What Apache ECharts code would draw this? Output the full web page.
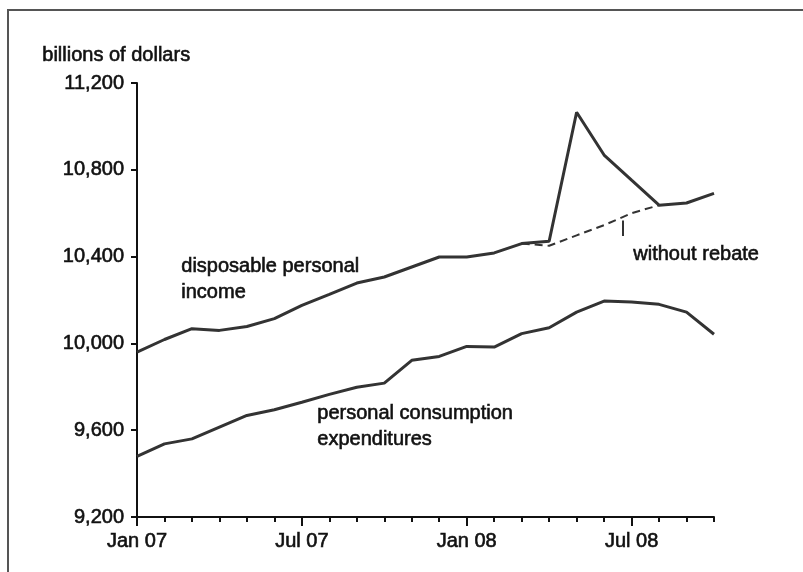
<!DOCTYPE html>
<html>
<head>
<meta charset="utf-8">
<script src="https://cdn.jsdelivr.net/npm/echarts@6/dist/echarts.min.js"></script>
<style>
  html, body { margin: 0; padding: 0; background: #fff; }
  #chart { width: 803px; height: 572px; }
</style>
</head>
<body>
<div id="chart"></div>
<script>
    // months Jan 07 .. Oct 08
    const months = ['Jan 07', 'Feb 07', 'Mar 07', 'Apr 07', 'May 07', 'Jun 07', 'Jul 07', 'Aug 07', 'Sep 07', 'Oct 07', 'Nov 07', 'Dec 07',
                    'Jan 08', 'Feb 08', 'Mar 08', 'Apr 08', 'May 08', 'Jun 08', 'Jul 08', 'Aug 08', 'Sep 08', 'Oct 08'];
    const labelMonths = [0, 6, 12, 18];
    const yTicks = [9200, 9600, 10000, 10400, 10800, 11200];

    // disposable personal income
    const dpi = [9960, 10018, 10068, 10060, 10078, 10114, 10175, 10226, 10278, 10306, 10352, 10398,
                 10398, 10417, 10460, 10471, 11065, 10868, 10752, 10637, 10647, 10691];
    // personal consumption expenditures
    const pce = [9479, 9537, 9560, 9614, 9668, 9694, 9729, 9765, 9798, 9817, 9922, 9940,
                 9986, 9983, 10045, 10072, 10144, 10195, 10191, 10180, 10144, 10042];
    // without rebate, Mar 08 .. Aug 08
    const noRebateStart = 14;
    const noRebate = [10460, 10450, 10498, 10545, 10600, 10637];

    const pairs = (arr, start) => arr.map((v, i) => [start + i, v]);

    let chart = echarts.init(document.getElementById('chart'));
    const font = 'Liberation Sans, Arial, sans-serif';
    // slightly heavier text, like the scanned original
    const ink = { fill: '#111', stroke: '#111', lineWidth: 0.6 };
    const option = {
        animation: false,
        grid: { left: 137, right: 89, top: 83, bottom: 55 },
        xAxis: [
            {
                type: 'value', min: 0, max: months.length - 1, interval: 1,
                axisLine: { lineStyle: { color: '#111', width: 2 } },
                axisTick: { length: 5, lineStyle: { color: '#111', width: 2 } },
                axisLabel: {
                    customValues: labelMonths,
                    formatter: (v) => months[v],
                    color: '#111', fontSize: 20, fontFamily: font, margin: 14,
                    textBorderColor: '#111', textBorderWidth: 0.6
                },
                splitLine: { show: false }
            },
            {
                type: 'value', min: 0, max: months.length - 1, position: 'bottom',
                axisLine: { show: false },
                axisTick: { customValues: labelMonths, length: 9, lineStyle: { color: '#111', width: 2 } },
                axisLabel: { show: false },
                splitLine: { show: false }
            }
        ],
        yAxis: {
            type: 'value', min: yTicks[0], max: yTicks[yTicks.length - 1], interval: 400,
            axisLine: { show: true, lineStyle: { color: '#111', width: 2 } },
            axisTick: { show: true, length: 6, lineStyle: { color: '#111', width: 2 } },
            axisLabel: {
                formatter: (v) => v.toLocaleString('en-US'),
                color: '#111', fontSize: 20, fontFamily: font, margin: 13,
                textBorderColor: '#111', textBorderWidth: 0.6
            },
            splitLine: { show: false }
        },
        graphic: [
            { type: 'rect', shape: { x: 8, y: 10, width: 810, height: 580 }, style: { fill: 'none', stroke: '#555', lineWidth: 2 } },
            { type: 'text', left: 42, top: 45, style: Object.assign({ text: 'billions of dollars', font: '20px ' + font }, ink) },
            { type: 'text', left: 181, top: 253, style: Object.assign({ text: 'disposable personal\nincome', font: '20px ' + font, lineHeight: 26 }, ink) },
            { type: 'text', left: 317, top: 400, style: Object.assign({ text: 'personal consumption\nexpenditures', font: '20px ' + font, lineHeight: 26 }, ink) },
            { type: 'text', left: 633, top: 244, style: Object.assign({ text: 'without rebate', font: '20px ' + font }, ink) }
        ],
        series: [
            {
                name: 'disposable personal income', type: 'line', data: pairs(dpi, 0),
                symbol: 'none', lineStyle: { color: '#333', width: 3 }
            },
            {
                name: 'personal consumption expenditures', type: 'line', data: pairs(pce, 0),
                symbol: 'none', lineStyle: { color: '#333', width: 3 }
            },
            {
                name: 'without rebate', type: 'line', data: pairs(noRebate, noRebateStart),
                symbol: 'none', lineStyle: { color: '#333', width: 2, type: [8, 5] },
                markLine: {
                    silent: true, symbol: 'none', label: { show: false },
                    lineStyle: { color: '#333', width: 2, type: 'solid' },
                    data: [[{ coord: [17.67, 10566] }, { coord: [17.67, 10495] }]]
                }
            }
        ]
    };
    chart.setOption(option);
</script>
</body>
</html>
